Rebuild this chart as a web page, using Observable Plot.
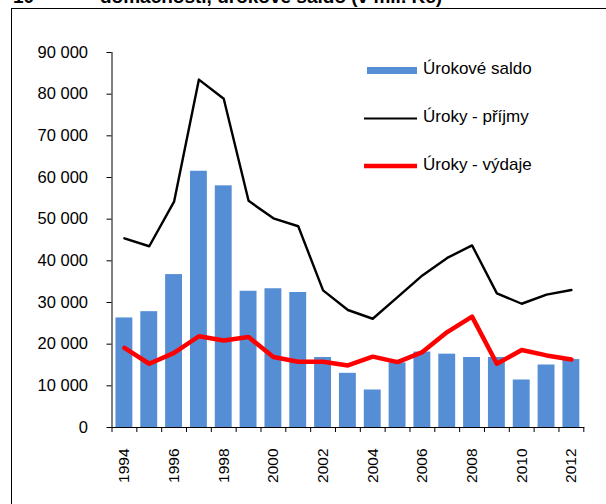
<!DOCTYPE html>
<html>
<head>
<meta charset="utf-8">
<script src="https://cdn.jsdelivr.net/npm/d3@7"></script>
<script src="https://cdn.jsdelivr.net/npm/@observablehq/plot@0.6"></script>
<style>
  html, body { margin: 0; padding: 0; background: #fff; }
  body { width: 606px; height: 504px; overflow: hidden; position: relative; font-family: "Liberation Sans", Arial, sans-serif; }
  #title { position: absolute; left: 0; top: -13px; white-space: nowrap; font-weight: bold; font-size: 19px; color: #000; line-height: 20px; }
  #title .num { position: absolute; left: 13px; }
  #title .txt { position: absolute; left: 100px; }
  #frame { position: absolute; left: 11px; top: 8px; width: 700px; height: 600px; border-left: 1px solid #000; border-top: 1px solid #000; }
  #chart { position: absolute; left: 0; top: 0; }
  #legend { position: absolute; left: 364px; top: 58px; font-size: 17px; color: #000; }
  .item { position: absolute; left: 0; height: 24px; white-space: nowrap; }
  .item svg { position: absolute; left: 0; top: 0; }
  .item span { position: absolute; left: 59px; top: 1px; }
</style>
</head>
<body>
<div id="title"><span class="num">10</span><span class="txt">domácností, úrokové saldo (v mil. Kč)</span></div>
<div id="frame"></div>
<div id="chart"></div>
<div id="legend"></div>
<script>
const years = [1994,1995,1996,1997,1998,1999,2000,2001,2002,2003,2004,2005,2006,2007,2008,2009,2010,2011,2012];
const saldo = [26300,27800,36700,61500,58000,32700,33300,32400,16800,13000,9000,15500,18100,17600,16800,16800,11400,15000,16300];
const prijmy = [45400,43500,54200,83500,78900,54400,50200,48300,32900,28200,26100,31300,36500,40700,43700,32200,29700,31900,33000];
const vydaje = [19100,15300,17900,21900,20900,21700,16900,15800,15800,14900,17000,15700,18100,22900,26600,15300,18600,17300,16300];
const yTicks = [0,10000,20000,30000,40000,50000,60000,70000,80000,90000];
const yearLabels = [1994,1996,1998,2000,2002,2004,2006,2008,2010,2012];
const seriesNames = ["Úrokové saldo", "Úroky - příjmy", "Úroky - výdaje"];
const colors = ["#558ed5", "#000000", "#ff0000"];

const rows = years.map((y, i) => ({year: y, saldo: saldo[i], prijmy: prijmy[i], vydaje: vydaje[i]}));
const boundaries = years.map(y => y - 0.5).concat([years[years.length - 1] + 0.5]);
const fmt = v => d3.format(",")(v).replace(/,/g, " ");

const chart = Plot.plot({
  width: 606,
  height: 504,
  marginLeft: 111.5,
  marginRight: 22.7,
  marginTop: 52,
  marginBottom: 77,
  style: {fontFamily: "'Liberation Sans', Arial, sans-serif", background: "transparent", color: "#000"},
  x: {type: "linear", domain: [years[0] - 0.5, years[years.length - 1] + 0.5]},
  y: {domain: [0, 90000]},
  marks: [
    Plot.rect(rows, {x1: d => d.year - 0.34, x2: d => d.year + 0.34, y1: 0, y2: "saldo", fill: colors[0]}),
    Plot.line(rows, {x: "year", y: "prijmy", stroke: colors[1], strokeWidth: 2.4}),
    Plot.line(rows, {x: "year", y: "vydaje", stroke: colors[2], strokeWidth: 4.5}),
    Plot.frame({anchor: "left", stroke: "#000"}),
    Plot.frame({anchor: "bottom", stroke: "#000"}),
    Plot.axisY({ticks: yTicks, tickSize: 5, tickPadding: 19, tickFormat: fmt, fontSize: 16.5, label: null, stroke: "#000"}),
    Plot.axisX({ticks: boundaries, tickSize: 5, tickFormat: () => "", label: null, stroke: "#000"}),
    Plot.axisX({ticks: yearLabels, tickSize: 0, tickPadding: 21, tickRotate: -90, tickFormat: d => String(d), fontSize: 15.5, label: null})
  ]
});
document.getElementById("chart").appendChild(chart);

const legend = document.getElementById("legend");
const swatches = [
  `<svg width="56" height="24"><rect x="3" y="9" width="50" height="7" fill="${colors[0]}"/></svg>`,
  `<svg width="56" height="24"><line x1="0" x2="53" y1="12.5" y2="12.5" stroke="${colors[1]}" stroke-width="2"/></svg>`,
  `<svg width="56" height="24"><line x1="0" x2="53" y1="12" y2="12" stroke="${colors[2]}" stroke-width="4.5"/></svg>`
];
seriesNames.forEach((name, i) => {
  const div = document.createElement("div");
  div.className = "item";
  div.style.top = (i * 48) + "px";
  div.innerHTML = swatches[i] + `<span>${name}</span>`;
  legend.appendChild(div);
});
</script>
</body>
</html>
